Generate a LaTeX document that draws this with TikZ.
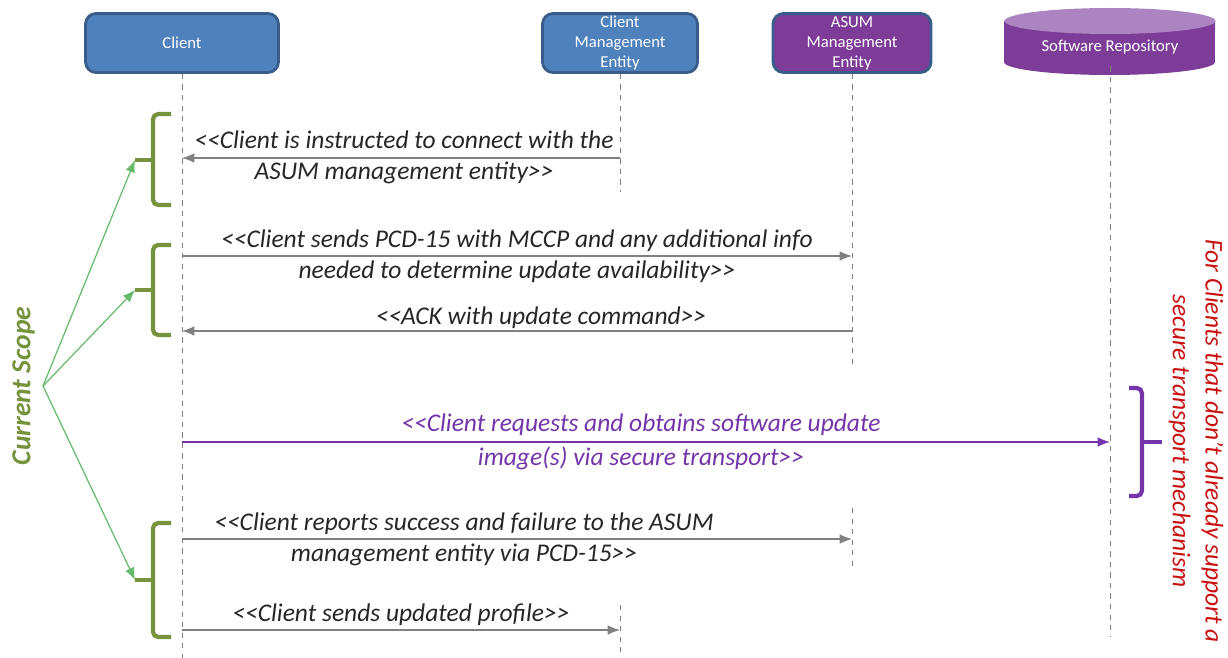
\documentclass[tikz,border=0pt]{standalone}
\usepackage{fontspec}
\setmainfont{Carlito}
\usetikzlibrary{arrows.meta}
\definecolor{boxblue}{RGB}{79,129,189}
\definecolor{boxedge}{RGB}{56,93,138}
\definecolor{boxpurple}{RGB}{125,60,152}
\definecolor{toppurple}{RGB}{172,132,194}
\definecolor{scopegreen}{RGB}{118,146,60}
\definecolor{arrgreen}{RGB}{102,187,106}
\definecolor{msgpurple}{RGB}{116,52,170}
\definecolor{notered}{RGB}{200,16,16}
\newcommand{\msgfont}{\fontsize{14.5}{17.6}\selectfont\itshape}
\newcommand{\lsh}{<\kern0pt<}
\newcommand{\rsh}{>\kern0pt>}

\begin{document}
\begin{tikzpicture}[x=0.02cm,y=-0.02cm,
    enode/.style={draw=boxedge,fill=boxblue,rounded corners=6pt,line width=1.6pt,text=white,align=center,
      font=\fontsize{9.5}{11.4}\selectfont,minimum height=1.18cm,inner sep=1pt},
    anode/.style={enode,fill=boxpurple},
    lline/.style={draw=gray,dashed,line width=0.5pt},
    msg/.style={draw=gray,line width=0.7pt,-{Latex[length=7pt,width=5.5pt]}},
    mtext/.style={font=\msgfont,align=center,text=black!85,inner sep=0pt},
    gbrace/.style={draw=scopegreen,line width=2.4pt,rounded corners=3pt},
    pbrace/.style={draw=msgpurple,line width=2.4pt,rounded corners=3pt},
    sarrow/.style={draw=arrgreen,line width=0.7pt,-{Latex[length=7pt,width=5.5pt]}}]
    \useasboundingbox (0,0) rectangle (1228,658);

    % participants
    \node[enode,minimum width=3.86cm] (cl) at (182,43) {Client};
    \node[enode,minimum width=3.10cm] (cme) at (620,43) {Client\\Management\\Entity};
    \node[anode,minimum width=3.16cm] (asum) at (852,43) {ASUM\\Management\\Entity};
    \fill[boxpurple] (1004,21) -- (1004,62) arc[start angle=180,end angle=360,x radius=2.11cm,y radius=0.26cm] -- (1215,21) -- cycle;
    \fill[toppurple] (1110,21) ellipse[x radius=2.11cm,y radius=0.26cm];
    \node[text=white,font=\fontsize{9.5}{11.4}\selectfont,minimum height=0.76cm] (sr) at (1110,47) {Software Repository};

    % lifelines
    \coordinate (clend) at (182,658);
    \coordinate (cmeend) at (620,192);
    \coordinate (asumend) at (852,367);
    \coordinate (srend) at (1110,636);
    \draw[lline] (cl) -- (clend);
    \draw[lline] (cme) -- (cmeend);
    \draw[lline] (cme |- 0,605) -- (cme |- 0,655);
    \draw[lline] (asum) -- (asumend);
    \draw[lline] (asum |- 0,508) -- (asum |- 0,570);
    \draw[lline] (sr.south) -- (srend);

    % messages
    \draw[msg] (cme |- 0,158) -- (cl |- 0,158);
    \node[mtext] (m1) at (404,157) {\lsh Client is instructed to connect with the\\ASUM management entity\rsh};
    \draw[msg] (cl |- 0,256) -- (asum |- 0,256);
    \node[mtext] (m2) at (517,256) {\lsh Client sends PCD-15 with MCCP and any additional info\\needed to determine update availability\rsh};
    \draw[msg] (asum |- 0,331) -- (cl |- 0,331);
    \node[mtext] (m3) at (541,318) {\lsh ACK with update command\rsh};
    \draw[msg,draw=msgpurple] (cl |- 0,442) -- (sr |- 0,442);
    \node[mtext,text=msgpurple,font=\fontsize{14.5}{19.3}\selectfont\itshape] (m4) at (641,442) {\lsh Client requests and obtains software update\\image(s) via secure transport\rsh};
    \draw[msg] (cl |- 0,539) -- (asum |- 0,539);
    \node[mtext] (m5) at (464,539) {\lsh Client reports success and failure to the ASUM\\management entity via PCD-15\rsh};
    \draw[msg] (cl |- 0,630) -- (cme |- 0,630);
    \node[mtext] (m6) at (401,615) {\lsh Client sends updated profile\rsh};

    % scope braces
    \coordinate (t1) at (135,160);
    \coordinate (t2) at (135,290);
    \coordinate (t3) at (135,580);
    \draw[gbrace] (171,114) -| (153,205) -- (171,205);
    \draw[gbrace] (153,160) -- (t1);
    \draw[gbrace] (171,245) -| (153,335) -- (171,335);
    \draw[gbrace] (153,290) -- (t2);
    \draw[gbrace] (171,523) -| (153,637) -- (171,637);
    \draw[gbrace] (153,580) -- (t3);

    \node[rotate=90,anchor=south,inner sep=4.5pt,text=scopegreen,font=\fontsize{15.7}{18}\selectfont\bfseries\itshape] (cs) at (43,386) {Current Scope};
    \draw[sarrow] (cs.south) -- (t1);
    \draw[sarrow] (cs.south) -- (t2);
    \draw[sarrow] (cs.south) -- (t3);

    % transport note
    \draw[pbrace] (1129,388) -| (1142,496) -- (1129,496);
    \coordinate (t4) at (1162,442);
    \draw[pbrace] (1142,442) -- (t4);
    \node[rotate=-90,align=center,text=notered,font=\fontsize{14.5}{18.7}\selectfont\itshape] (note) at (1196,441) {For Clients that don’t already support a\\secure transport mechanism};
\end{tikzpicture}
\end{document}
